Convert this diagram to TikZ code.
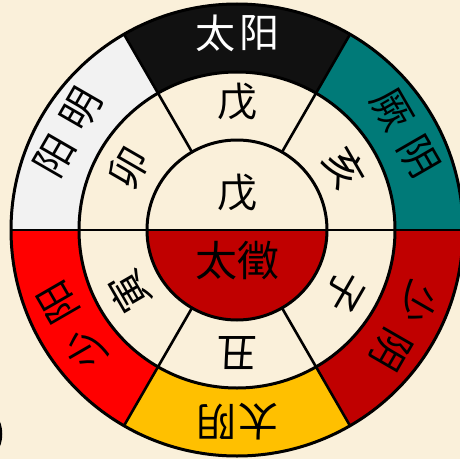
\documentclass[tikz,border=0pt]{standalone}
\usepackage{fontspec}
\newfontfamily\cjk{Noto Sans CJK SC}
\definecolor{bg}{HTML}{FAF0DA}
\definecolor{ringteal}{HTML}{007A78}
\definecolor{ringdark}{HTML}{C00000}
\definecolor{ringred}{HTML}{FF0000}
\definecolor{ringgold}{HTML}{FFC000}
\definecolor{ringgray}{HTML}{F2F2F2}
\definecolor{ringblack}{HTML}{111111}
\tikzset{
  lab/.style={font=\cjk\fontsize{40}{40}\selectfont, inner sep=0pt, text=black},
  midlab/.style={font=\cjk\fontsize{40}{40}\selectfont, inner sep=0pt, text=black},
  ringline/.style={line width=3pt, draw=black},
  spoke/.style={line width=2.6pt, draw=black},
}
\begin{document}
\begin{tikzpicture}[x=1pt,y=1pt]
\fill[bg] (0,0) rectangle (460,459);
\useasboundingbox (0,0) rectangle (460,459);
% small mark at bottom-left edge
\draw[line width=2pt] (-1,37) .. controls (2,30) and (2,20) .. (-1,13);
\begin{scope}[shift={(237,229)}]
  \coordinate (c) at (0,0);
  % outer ring sectors
  \foreach \a/\col in {0/ringteal,60/ringblack,120/ringgray,180/ringred,240/ringgold,300/ringdark}{
    \fill[\col] (\a:226) arc[start angle=\a, end angle={\a+60}, radius=226]
      -- ({\a+60}:158) arc[start angle={\a+60}, end angle=\a, radius=158] -- cycle;
  }
  % inner lower half
  \fill[ringdark] (0:90) arc[start angle=0, end angle=-180, radius=90] -- cycle;
  % circles
  \draw[ringline] (c) circle (226);
  \draw[ringline] (c) circle (158);
  \draw[ringline] (c) circle (90);
  % spokes
  \coordinate (L) at (180:226);
  \coordinate (R) at (0:226);
  \draw[spoke] (L) -- (R);
  \foreach \a in {60,120,240,300}{
    \draw[spoke] (\a:90) -- (\a:226);
  }
  % outer ring labels (each character separately, along the tangent)
  \begin{scope}[rotate=0, transform shape]
    \node[lab, text=white] (taiyangA) at (-22,197) {太};
    \node[lab, text=white] (taiyangB) at (22,197) {阳};
  \end{scope}
  \begin{scope}[rotate=-60, transform shape]
    \node[lab] (jueyinA) at (-27,194) {厥};
    \node[lab] (jueyinB) at (27,194) {阴};
  \end{scope}
  \begin{scope}[rotate=-120, transform shape]
    \node[lab] (shaoyinA) at (-27,193) {少};
    \node[lab] (shaoyinB) at (27,193) {阴};
  \end{scope}
  \begin{scope}[rotate=180, transform shape]
    \node[lab] (taiyinA) at (-21,192) {太};
    \node[lab] (taiyinB) at (21,192) {阴};
  \end{scope}
  \begin{scope}[rotate=120, transform shape]
    \node[lab] (shaoyangA) at (-27,191) {少};
    \node[lab] (shaoyangB) at (27,191) {阳};
  \end{scope}
  \begin{scope}[rotate=60, transform shape]
    \node[lab] (yangmingA) at (-27,195) {阳};
    \node[lab] (yangmingB) at (27,195) {明};
  \end{scope}
  % middle ring labels
  \node[midlab] (xu) at (90:128) {戊};
  \node[midlab, rotate=-60] (hai) at (30:124) {亥};
  \node[midlab, rotate=-120] (zi) at (-30:124) {子};
  \node[midlab, rotate=180] (chou) at (-90:123) {丑};
  \node[midlab, rotate=120] (yin) at (210:124) {寅};
  \node[midlab, rotate=60] (mao) at (150:125) {卯};
  % inner labels
  \node[midlab] (wu) at (0,37) {戊};
  \node[lab, font=\cjk\fontsize{42}{42}\selectfont] (taizhi) at (0,-31) {太徵};
\end{scope}
\end{tikzpicture}
\end{document}
